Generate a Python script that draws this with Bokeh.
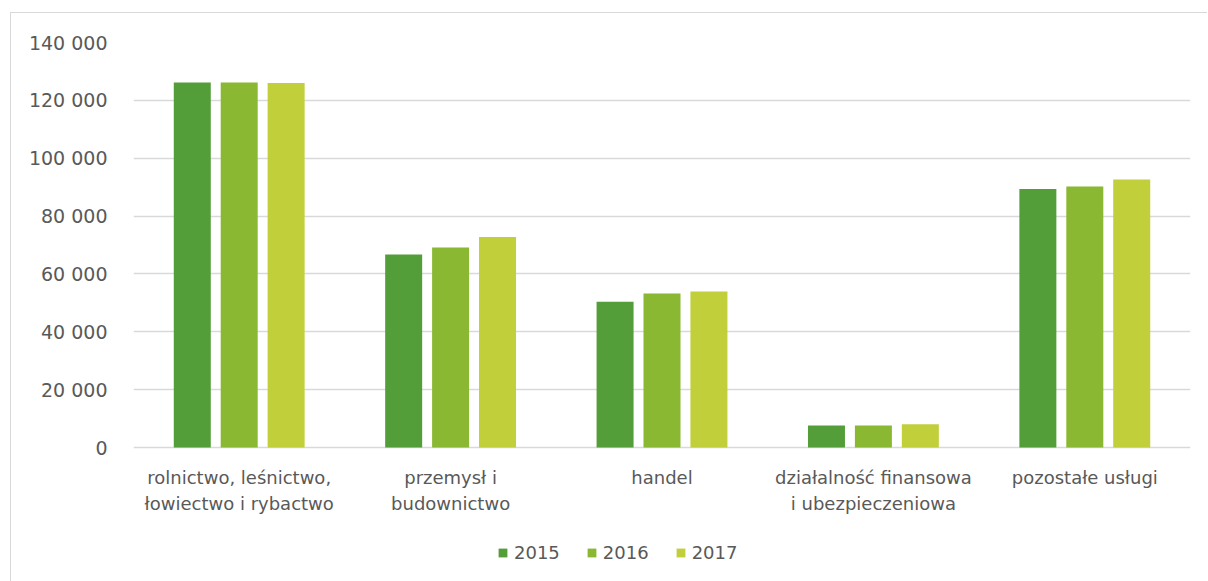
from bokeh.plotting import figure
from bokeh.layouts import column
from bokeh.models import ColumnDataSource, Legend, LegendItem, FixedTicker, CustomJSTickFormatter
from bokeh.core.properties import value
from bokeh.transform import dodge
from bokeh.embed import file_html
from bokeh.resources import INLINE

categories = ["rolnictwo, leśnictwo,\nłowiectwo i rybactwo", "przemysł i\nbudownictwo", "handel",
              "działalność finansowa\ni ubezpieczeniowa", "pozostałe usługi"]
years = ["2015", "2016", "2017"]
v2015 = [126200, 66700, 50400, 7600, 89400]
v2016 = [126200, 69100, 53200, 7600, 90200]
v2017 = [126000, 72800, 53900, 8000, 92600]
colors = ["#549E39", "#8AB833", "#C0CF3A"]
y_ticks = [0, 20000, 40000, 60000, 80000, 100000, 120000, 140000]

FONT = "DejaVu Sans"
TXT = "#595959"

# layout geometry (canvas pixels)
PX_PER_UNIT = 405 / 140000          # 0 -> 140 000 spans 405 px
BELOW_ZERO_PX = 131                 # frame continues below the 0 line to hold labels/legend
y_start = -BELOW_ZERO_PX / PX_PER_UNIT
label_y = -19 / PX_PER_UNIT         # category labels start 19 px under the 0 line

src = ColumnDataSource(dict(cat=categories, y2015=v2015, y2016=v2016, y2017=v2017,
                            ly=[label_y] * len(categories)))

p = figure(x_range=categories, y_range=(y_start, 140000), width=1196, height=568,
           output_backend="svg", toolbar_location=None,
           min_border_left=122, min_border_right=17, min_border_top=29, min_border_bottom=3)
p.outline_line_color = None
p.xaxis.visible = False

renderers = []
for i, (yr, col) in enumerate(zip(years, colors)):
    r = p.vbar(x=dodge("cat", (i - 1) * 0.222, range=p.x_range), top="y" + yr, width=0.175,
               source=src, fill_color=col, line_color=None)
    renderers.append(r)

p.text(x="cat", y="ly", text="cat", source=src, text_align="center", text_baseline="top",
       text_font=value(FONT), text_font_size="18px", text_color=TXT, text_line_height=1.25)

p.yaxis.ticker = FixedTicker(ticks=y_ticks)
p.yaxis.formatter = CustomJSTickFormatter(code="return tick.toString().replace(/\\B(?=(\\d{3})+(?!\\d))/g, ' ');")
p.yaxis.axis_line_color = None
p.yaxis.major_tick_line_color = None
p.yaxis.minor_tick_line_color = None
p.yaxis.major_label_standoff = 20
p.yaxis.major_label_text_font = FONT
p.yaxis.major_label_text_font_size = "19px"
p.yaxis.major_label_text_color = TXT

p.xgrid.grid_line_color = None
p.ygrid.grid_line_color = "#D9D9D9"
p.ygrid.grid_line_width = 1.5

items = [LegendItem(label=yr, renderers=[r]) for yr, r in zip(years, renderers)]
legend = Legend(items=items, orientation="horizontal", location=(364, 15),
                label_text_font=FONT, label_text_font_size="18px", label_text_color=TXT,
                glyph_width=11, glyph_height=11, spacing=26, label_standoff=6,
                border_line_color=None, background_fill_alpha=0, padding=0, margin=0)
p.add_layout(legend, "center")

layout = column(p, styles={"margin-left": "10px", "margin-top": "12px",
                           "border-left": "1px solid #D9D9D9", "border-top": "1px solid #D9D9D9"})

open("out.html", "w").write(file_html(layout, INLINE))
